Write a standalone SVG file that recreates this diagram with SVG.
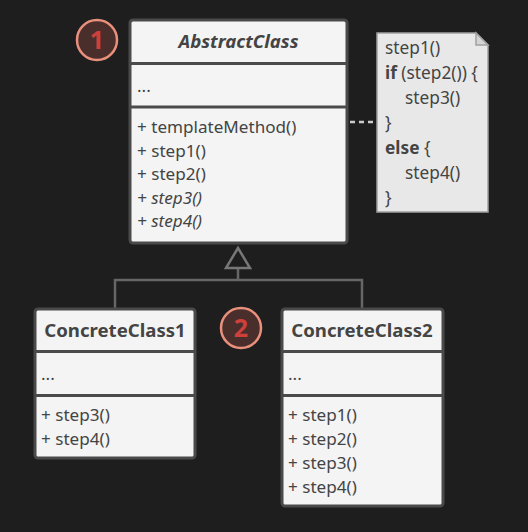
<svg xmlns="http://www.w3.org/2000/svg" width="528" height="532" viewBox="0 0 528 532">
<style>
.box{fill:#f4f4f4;stroke:#4a4a4a;stroke-width:3}
.sep{stroke:#4a4a4a;stroke-width:3}
.t{font-family:"Noto Sans",sans-serif;font-size:17.1px;fill:#444}
.h{font-family:"Noto Sans",sans-serif;font-size:18.6px;font-weight:bold;fill:#444;text-anchor:middle}
.i{font-style:italic}
.n{font-family:"Noto Sans",sans-serif;font-size:17.3px;fill:#444}
.b{font-weight:bold}
.circ{fill:#4a2e2c;stroke:#e8907c;stroke-width:2.5}
.num{font-family:"Noto Sans",sans-serif;font-size:25px;font-weight:bold;fill:#d0403a;text-anchor:middle}
.ln{fill:none;stroke:#666;stroke-width:2.5}
</style>
<rect width="528" height="532" fill="#1e1e1e"/>
<g id="connectors">
<path class="ln" d="M115,308 V280 H362 V308 M238,280 V268"/>
<path d="M238,248 L250,268 H226 Z" fill="#1e1e1e" stroke="#777" stroke-width="2.5"/>
<path d="M350,122 H376" stroke="#ccc" stroke-width="2.5" stroke-dasharray="5,4" fill="none"/>
</g>
<g id="abstract">
<rect class="box" x="130" y="20" width="217" height="223" rx="3"/>
<line class="sep" x1="130" y1="63.5" x2="347" y2="63.5"/>
<line class="sep" x1="130" y1="107" x2="347" y2="107"/>
<text class="h i" x="238.5" y="48">AbstractClass</text>
<text class="t" x="137" y="92">...</text>
<text class="t" x="137" y="133">+ templateMethod()</text>
<text class="t" x="137" y="156.5">+ step1()</text>
<text class="t" x="137" y="180">+ step2()</text>
<text class="t i" x="137" y="203.5">+ step3()</text>
<text class="t i" x="137" y="227">+ step4()</text>
</g>
<g id="note">
<path d="M377,33 H476 L488,45 V212 H377 Z" fill="#e8e8e8" stroke="#a0a0a0" stroke-width="1.5"/>
<path d="M476,33 V45 H488 Z" fill="#d4d4d4" stroke="#a0a0a0" stroke-width="1.5"/>
<text class="n" x="385" y="54">step1()</text>
<text class="n" x="385" y="79"><tspan class="b">if</tspan> (step2()) {</text>
<text class="n" x="405" y="104">step3()</text>
<text class="n" x="385" y="129">}</text>
<text class="n" x="385" y="154"><tspan class="b">else</tspan> {</text>
<text class="n" x="405" y="179">step4()</text>
<text class="n" x="385" y="204">}</text>
</g>
<g id="badge1">
<circle class="circ" cx="97" cy="40" r="20"/>
<text class="num" x="97" y="48.5">1</text>
</g>
<g id="badge2">
<circle class="circ" cx="241" cy="328" r="20"/>
<text class="num" x="241" y="336.5">2</text>
</g>
<g id="concrete1">
<rect class="box" x="35" y="309" width="160" height="149" rx="3"/>
<line class="sep" x1="35" y1="351.5" x2="195" y2="351.5"/>
<line class="sep" x1="35" y1="395.5" x2="195" y2="395.5"/>
<text class="h" x="115" y="337">ConcreteClass1</text>
<text class="t" x="41" y="380">...</text>
<text class="t" x="41" y="421">+ step3()</text>
<text class="t" x="41" y="445">+ step4()</text>
</g>
<g id="concrete2">
<rect class="box" x="282" y="309" width="161" height="197" rx="3"/>
<line class="sep" x1="282" y1="351.5" x2="443" y2="351.5"/>
<line class="sep" x1="282" y1="395.5" x2="443" y2="395.5"/>
<text class="h" x="362" y="337">ConcreteClass2</text>
<text class="t" x="288" y="380">...</text>
<text class="t" x="288" y="421">+ step1()</text>
<text class="t" x="288" y="445">+ step2()</text>
<text class="t" x="288" y="469">+ step3()</text>
<text class="t" x="288" y="493">+ step4()</text>
</g>
</svg>
